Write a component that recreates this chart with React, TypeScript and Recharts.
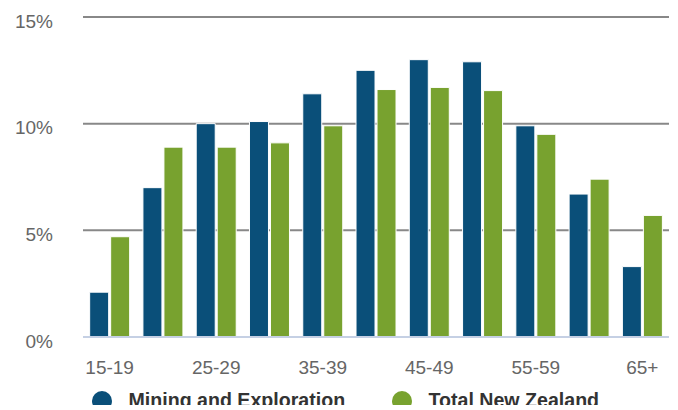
import React from "react";
import { BarChart, Bar, XAxis, YAxis, CartesianGrid, Legend } from "recharts";

const categories = ["15-19", "20-24", "25-29", "30-34", "35-39", "40-44", "45-49", "50-54", "55-59", "60-64", "65+"];
const mining = [2.1, 7.0, 10.0, 10.1, 11.4, 12.5, 13.0, 12.9, 9.9, 6.7, 3.3];
const totalNZ = [4.7, 8.9, 8.9, 9.1, 9.9, 11.6, 11.7, 11.55, 9.5, 7.4, 5.7];
const yTicks = [0, 5, 10, 15];
const seriesNames = ["Mining and Exploration", "Total New Zealand"];
const colors = ["#0a4f79", "#78a22f"];

const data = categories.map((c, i) => ({ name: c, mining: mining[i], total: totalNZ[i] }));

const FONT = "'Liberation Sans', Arial, Helvetica, sans-serif";

const YTick = (props: any) => {
  const { x, y, payload } = props;
  return (
    <text x={x} y={y + 10.5} textAnchor="end" fill="#666" fontSize={19} fontFamily={FONT}>
      {payload.value}%
    </text>
  );
};

const XTick = (props: any) => {
  const { x, y, payload } = props;
  return (
    <text x={x} y={y + 36.5} textAnchor="middle" fill="#666" fontSize={19} fontFamily={FONT}>
      {payload.value}
    </text>
  );
};

const LegendContent = (props: any) => {
  const { payload } = props;
  const pos = [102, 402];
  return (
    <svg width={678} height={17} style={{ display: "block", overflow: "hidden" }}>
      {(payload || []).map((p: any, i: number) => (
        <g key={i}>
          <circle cx={pos[i]} cy={13} r={10} fill={p.color} />
          <text x={pos[i] + 26.5} y={19} fontSize={19.6} fontWeight="bold" fill="#333" fontFamily={FONT}>
            {p.value}
          </text>
        </g>
      ))}
    </svg>
  );
};

export default function App() {
  return (
    <div style={{ position: "absolute", left: 0, top: 0, width: 678, height: 410, overflow: "hidden", background: "#fff" }}>
      <BarChart
        width={678}
        height={410}
        data={data}
        margin={{ top: 17, right: 9, bottom: 43, left: 0 }}
        barCategoryGap="12.5%"
        barGap={2}
      >
        <CartesianGrid vertical={false} stroke="#888" strokeWidth={2} />
        <XAxis
          dataKey="name"
          interval={1}
          tickLine={false}
          tickSize={0}
          tickMargin={0}
          height={30}
          axisLine={{ stroke: "#c5d0e4", strokeWidth: 2 }}
          tick={<XTick />}
        />
        <YAxis
          width={83}
          domain={[0, 15]}
          ticks={yTicks}
          axisLine={false}
          tickLine={false}
          tickSize={0}
          tickMargin={30}
          tick={<YTick />}
        />
        <Legend
          layout="horizontal"
          verticalAlign="middle"
          align="center"
          wrapperStyle={{ top: 388, left: 0, width: 678, height: 17, overflow: "hidden" }}
          content={<LegendContent />}
        />
        <Bar dataKey="mining" name={seriesNames[0]} fill={colors[0]} stroke="#fff" strokeWidth={1} isAnimationActive={false} />
        <Bar dataKey="total" name={seriesNames[1]} fill={colors[1]} stroke="#fff" strokeWidth={1} isAnimationActive={false} />
      </BarChart>
    </div>
  );
}
